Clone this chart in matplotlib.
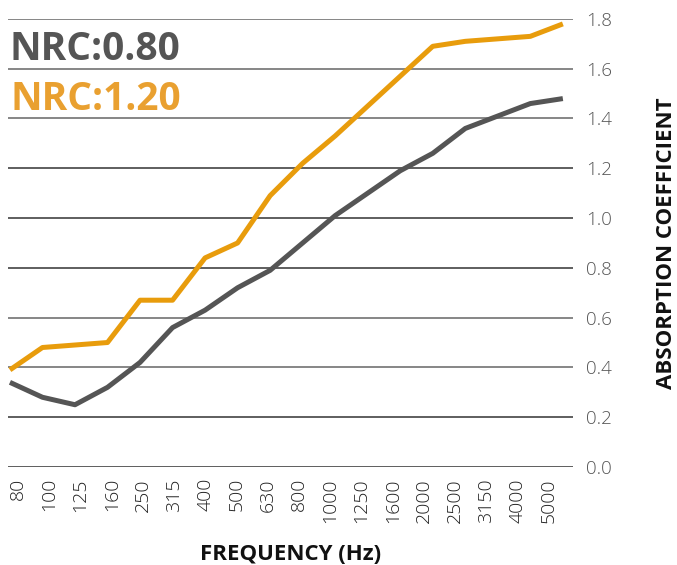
import matplotlib.pyplot as plt
import numpy as np

freqs = ["80", "100", "125", "160", "250", "315", "400", "500", "630", "800",
         "1000", "1250", "1600", "2000", "2500", "3150", "4000", "5000"]
nrc080 = [0.34, 0.28, 0.25, 0.32, 0.42, 0.56, 0.63, 0.72, 0.79, 0.90,
          1.01, 1.10, 1.19, 1.26, 1.36, 1.41, 1.46, 1.48]
nrc120 = [0.39, 0.48, 0.49, 0.50, 0.67, 0.67, 0.84, 0.90, 1.09, 1.22,
          1.33, 1.45, 1.57, 1.69, 1.71, 1.72, 1.73, 1.78]
yticks = [0.0, 0.2, 0.4, 0.6, 0.8, 1.0, 1.2, 1.4, 1.6, 1.8]

gray = "#555555"
orange = "#E89C0C"
font = "Open Sans"

fig = plt.figure(figsize=(6.77, 5.65), dpi=100)
ax = fig.add_axes([0.0118, 0.1735, 0.834, 0.793])

x = np.arange(len(freqs))
ax.plot(x, nrc080, color=gray, lw=3.6, solid_capstyle="butt", zorder=3)
ax.plot(x, nrc120, color=orange, lw=3.6, solid_capstyle="butt", zorder=3)

for v in yticks:
    ax.axhline(v, color="#333333" if v < 0.3 or 0.7 < v < 1.3 else "#666666",
               lw=1.1, zorder=1)

ax.set_xlim(-0.06, 17.3)
ax.set_ylim(0, 1.8)
for s in ax.spines.values():
    s.set_visible(False)

# labels sit a little tighter than the data points in the original
ax.set_xticks(0.25 + 0.96 * x)
ax.set_xticklabels(freqs, rotation=90, fontsize=14, color="#222222",
                   family=font, fontweight="light")
ax.set_yticks(yticks)
ax.set_yticklabels(["%.1f" % v for v in yticks], fontsize=13.5, color=gray,
                   family=font, fontweight="light")
ax.yaxis.tick_right()
ax.tick_params(axis="both", length=0)
ax.tick_params(axis="y", pad=10)
ax.tick_params(axis="x", pad=8)

ax.set_xlabel("FREQUENCY (Hz)", fontsize=16, fontweight="bold", family=font,
              color="#111111", labelpad=15)
ax.yaxis.set_label_position("right")
ax.set_ylabel("ABSORPTION COEFFICIENT", fontsize=16, fontweight="bold",
              family=font, color="#111111", labelpad=31)

ax.text(0.0, 1.635, "NRC:0.80", fontsize=28,
        fontweight="bold", color=gray, family=font, va="baseline")
ax.text(0.03, 1.435, "NRC:1.20", fontsize=28,
        fontweight="bold", color="#E9A030", family=font, va="baseline")

fig.savefig("out.png", dpi=100)
